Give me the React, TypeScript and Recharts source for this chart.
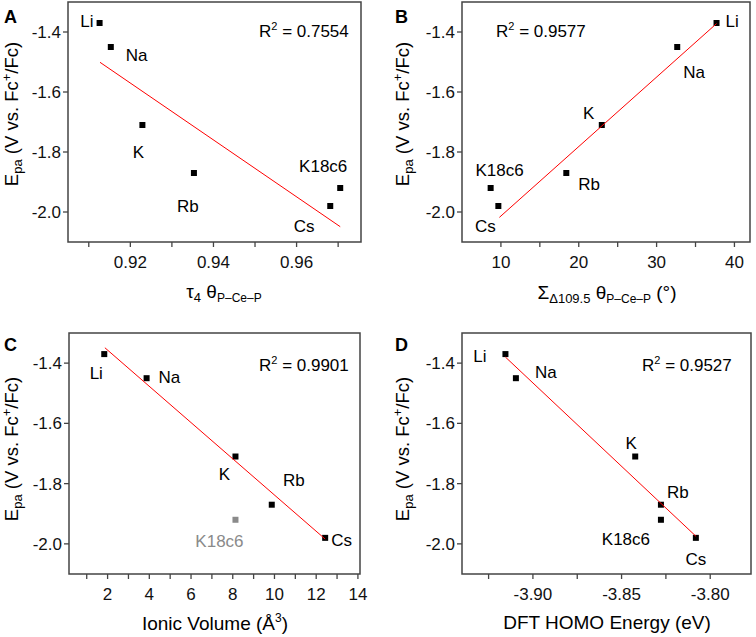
import React from "react";
import { ScatterChart, Scatter, XAxis, YAxis, ReferenceArea } from "recharts";

// cations, same order in every panel
const cations = ["Li", "Na", "K", "Rb", "K18c6", "Cs"];
const epa = [-1.37, -1.45, -1.71, -1.87, -1.92, -1.98];

const tau4 = [0.9126, 0.9153, 0.9229, 0.9353, 0.9705, 0.9681];
const sumDelta = [37.7, 32.65, 22.96, 18.4, 8.68, 9.67];
const ionicVolume = [1.84, 3.87, 8.13, 9.87, 8.13, 12.43];
const homoEnergy = [-3.9155, -3.9096, -3.8423, -3.8278, -3.8278, -3.8081];

// linear fits (end points)
const fitTauX = [0.9127, 0.9705];
const fitTauY = [-1.501, -2.049];
const fitSumX = [9.8, 37.7];
const fitSumY = [-2.018, -1.372];
const fitVolX = [1.87, 12.43];
const fitVolY = [-1.349, -1.984];
const fitHomoX = [-3.9155, -3.808];
const fitHomoY = [-1.38, -1.975];

const r2Values = ["0.7554", "0.9577", "0.9901", "0.9527"];

const yTicks = [-2.0, -1.8, -1.6, -1.4];
const tauTicks = [0.91, 0.92, 0.93, 0.94, 0.95, 0.96, 0.97];
const tauLabels = [0.92, 0.94, 0.96];
const sumTicks = [10, 15, 20, 25, 30, 35, 40];
const sumLabels = [10, 20, 30, 40];
const volTicks = [1, 2, 3, 4, 5, 6, 7, 8, 9, 10, 11, 12, 13, 14];
const volLabels = [2, 4, 6, 8, 10, 12, 14];
const homoTicks = [-3.925, -3.9, -3.875, -3.85, -3.825, -3.8];
const homoLabels = [-3.9, -3.85, -3.8];

// label placement relative to each marker: [dx, dy, anchor]
type Off = [number, number, "start" | "middle" | "end"];
const offA: Off[] = [[-6, 4, "end"], [15, 14, "start"], [-4, 33, "middle"], [-6, 39, "middle"], [-17, -16, "middle"], [-26, 26, "middle"]];
const offB: Off[] = [[9, 4, "start"], [17, 31, "middle"], [-13, -6, "middle"], [12, 17, "start"], [9, -12, "middle"], [-13, 26, "middle"]];
const offC: Off[] = [[-8, 25, "middle"], [12, 5, "start"], [-11, 23, "middle"], [22, -19, "middle"], [-16, 27, "middle"], [6, 8, "start"]];
const offD: Off[] = [[-19, 8, "end"], [19, 0, "start"], [-4, -8, "middle"], [6, -7, "start"], [-35, 25, "middle"], [0, 27, "middle"]];

const AXIS = "#444";
const FONT = "'Liberation Sans', Arial, sans-serif";

const noShape = () => <g />;

interface PanelProps {
  left: number;
  top: number;
  height: number;
  plotLeft: number;
  plotRight: number;
  plotTop: number;
  plotBottom: number;
  xs: number[];
  xDomain: [number, number];
  xTicks: number[];
  xLabels: number[];
  digits: number;
  fitX: number[];
  fitY: number[];
  offsets: Off[];
  grayIndex?: number;
}

function Panel(p: PanelProps) {
  const points = cations.map((name, i) => ({ x: p.xs[i], y: epa[i], name, i }));
  const fit = p.fitX.map((x, i) => ({ x, y: p.fitY[i] }));

  const marker = (props: any) => {
    const { cx, cy, payload } = props;
    const color = payload.i === p.grayIndex ? "#8a8a8a" : "#000";
    const [dx, dy, anchor] = p.offsets[payload.i];
    return (
      <g>
        <rect x={cx - 3} y={cy - 3} width={6} height={6} fill={color} />
        <text x={cx + dx} y={cy + dy} textAnchor={anchor} fontSize={17} fill={color}>
          {payload.name}
        </text>
      </g>
    );
  };

  return (
    <div style={{ position: "absolute", left: p.left, top: p.top }}>
      <ScatterChart
        width={378}
        height={p.height}
        margin={{ top: p.plotTop, right: 378 - p.plotRight, left: 0, bottom: 0 }}
      >
        <XAxis
          type="number"
          dataKey="x"
          domain={p.xDomain}
          ticks={p.xTicks}
          interval={0}
          axisLine={false}
          tickLine={{ stroke: AXIS, strokeWidth: 1.3 }}
          tickSize={5}
          tickMargin={9}
          height={p.height - p.plotBottom}
          tick={{ fill: "#111", fontSize: 17 }}
          tickFormatter={(v: number) => (p.xLabels.includes(v) ? v.toFixed(p.digits) : "")}
        />
        <YAxis
          type="number"
          dataKey="y"
          domain={[-2.1, -1.3]}
          ticks={yTicks}
          interval={0}
          axisLine={false}
          tickLine={{ stroke: AXIS, strokeWidth: 1.3 }}
          tickSize={5}
          tickMargin={2}
          width={p.plotLeft}
          tick={{ fill: "#111", fontSize: 17 }}
          tickFormatter={(v: number) => v.toFixed(1)}
        />
        <ReferenceArea
          x1={p.xDomain[0]}
          x2={p.xDomain[1]}
          y1={-2.1}
          y2={-1.3}
          fill="none"
          fillOpacity={0}
          stroke={AXIS}
          strokeWidth={1.5}
        />
        <Scatter data={points} shape={marker} isAnimationActive={false} />
        <Scatter
          data={fit}
          line={{ stroke: "#ff0000", strokeWidth: 1 }}
          shape={noShape}
          isAnimationActive={false}
        />
      </ScatterChart>
    </div>
  );
}

function YTitle({ x, y }: { x: number; y: number }) {
  return (
    <text transform={`translate(${x},${y}) rotate(-90)`} textAnchor="middle" fontSize={18.5}>
      E<tspan fontSize={13} dy={4}>pa</tspan>
      <tspan dy={-4}> (V vs. Fc</tspan>
      <tspan fontSize={13} dy={-7}>+</tspan>
      <tspan dy={7}>/Fc)</tspan>
    </text>
  );
}

function R2({ x, y, value }: { x: number; y: number; value: string }) {
  return (
    <text x={x} y={y} fontSize={17}>
      R<tspan fontSize={11} dy={-7}>2</tspan>
      <tspan dy={7}> = {value}</tspan>
    </text>
  );
}

export default function App() {
  return (
    <div
      style={{
        position: "absolute",
        left: 0,
        top: 0,
        width: 756,
        height: 637,
        background: "#fff",
        fontFamily: FONT,
      }}
    >
      <Panel
        left={0} top={0} height={318}
        plotLeft={68} plotRight={361} plotTop={2} plotBottom={242}
        xs={tau4} xDomain={[0.905, 0.9755]} xTicks={tauTicks} xLabels={tauLabels} digits={2}
        fitX={fitTauX} fitY={fitTauY} offsets={offA}
      />
      <Panel
        left={378} top={0} height={318}
        plotLeft={84} plotRight={372} plotTop={2} plotBottom={242}
        xs={sumDelta} xDomain={[5, 42]} xTicks={sumTicks} xLabels={sumLabels} digits={0}
        fitX={fitSumX} fitY={fitSumY} offsets={offB}
      />
      <Panel
        left={0} top={318} height={319}
        plotLeft={69} plotRight={360} plotTop={15} plotBottom={256}
        xs={ionicVolume} xDomain={[0.15, 14.1]} xTicks={volTicks} xLabels={volLabels} digits={0}
        fitX={fitVolX} fitY={fitVolY} offsets={offC} grayIndex={4}
      />
      <Panel
        left={378} top={318} height={319}
        plotLeft={84} plotRight={373} plotTop={15} plotBottom={256}
        xs={homoEnergy} xDomain={[-3.94, -3.777]} xTicks={homoTicks} xLabels={homoLabels} digits={2}
        fitX={fitHomoX} fitY={fitHomoY} offsets={offD}
      />
      <svg
        width={756}
        height={637}
        style={{ position: "absolute", left: 0, top: 0, pointerEvents: "none", fontFamily: FONT }}
      >
        <g fontWeight="bold" fontSize={18}>
          <text x={4} y={23}>A</text>
          <text x={395} y={23}>B</text>
          <text x={4} y={351}>C</text>
          <text x={395} y={351}>D</text>
        </g>
        <R2 x={259} y={37} value={r2Values[0]} />
        <R2 x={496} y={37} value={r2Values[1]} />
        <R2 x={259} y={371} value={r2Values[2]} />
        <R2 x={642} y={371} value={r2Values[3]} />
        <YTitle x={18} y={114} />
        <YTitle x={409} y={114} />
        <YTitle x={18} y={449} />
        <YTitle x={409} y={449} />
        <text x={224} y={298} textAnchor="middle" fontSize={19}>
          τ<tspan fontSize={13} dy={4}>4</tspan>
          <tspan dy={-4}> θ</tspan>
          <tspan fontSize={12} dy={4}>P–Ce–P</tspan>
        </text>
        <text x={607} y={299} textAnchor="middle" fontSize={19}>
          Σ<tspan fontSize={13} dy={4}>Δ109.5</tspan>
          <tspan dy={-4}> θ</tspan>
          <tspan fontSize={12} dy={4}>P–Ce–P</tspan>
          <tspan dy={-4}> (°)</tspan>
        </text>
        <text x={215} y={630} textAnchor="middle" fontSize={19}>
          Ionic Volume (Å<tspan fontSize={12} dy={-8}>3</tspan>
          <tspan dy={8}>)</tspan>
        </text>
        <text x={607} y={629} textAnchor="middle" fontSize={19}>
          DFT HOMO Energy (eV)
        </text>
      </svg>
    </div>
  );
}
